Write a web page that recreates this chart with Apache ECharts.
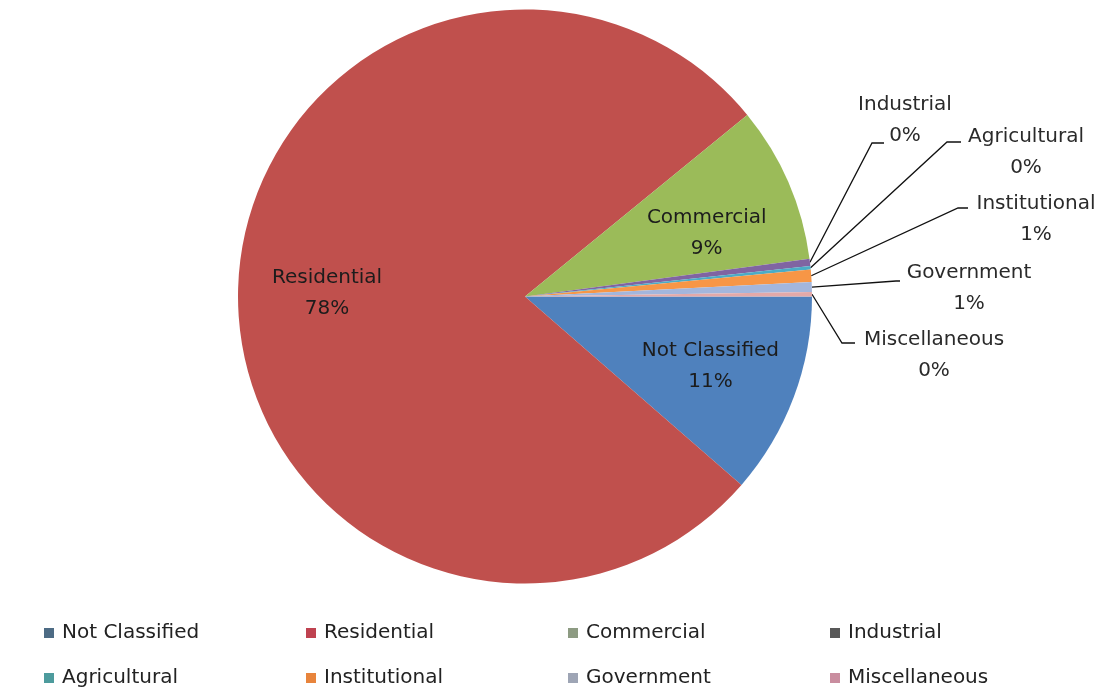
<!DOCTYPE html>
<html>
<head>
<meta charset="utf-8">
<script src="https://cdn.jsdelivr.net/npm/echarts@6/dist/echarts.min.js"></script>
<style>
  html, body { margin: 0; padding: 0; background: #fff; }
  #chart { width: 1114px; height: 698px; }
</style>
</head>
<body>
<div id="chart"></div>
<script>
// categories and values (percent shares)
const categories = ['Not Classified', 'Residential', 'Commercial', 'Industrial',
  'Agricultural', 'Institutional', 'Government', 'Miscellaneous']
const shares = [11.4, 77.7, 8.8, 0.4, 0.2, 0.7, 0.55, 0.25]
const insideLabels = ['Not Classified', 'Residential', 'Commercial']

// colours
const sliceColors = ['#4F81BD', '#C0504D', '#9BBB59', '#8064A2',
  '#4BACC6', '#F79646', '#A3B6DC', '#E3A9A9']
const legendColors = ['#4d6b84', '#bf4250', '#8d9b82', '#585858',
  '#4d9b9d', '#e8843c', '#9ea5b5', '#c98d9f']

// where the outside labels sit (text centre, elbow, end of leader line)
const outsideLayout = {
  'Industrial':    { c: [905, 120], elbow: [872, 143], end: [884, 143] },
  'Agricultural':  { c: [1026, 152], elbow: [947, 142], end: [961, 142] },
  'Institutional': { c: [1036, 219], elbow: [958, 208], end: [968, 208] },
  'Government':    { c: [969, 288], elbow: [896, 281], end: [900, 281] },
  'Miscellaneous': { c: [934, 355], elbow: [842, 343], end: [855, 343] }
}

const font = 'DejaVu Sans'
const center = [525, 296.5]
const pctText = (p) => p.name + '\n' + Math.round(p.percent) + '%'

const chart = echarts.init(document.getElementById('chart'))

const mainData = categories.map((name, i) => ({
  name,
  value: shares[i],
  itemStyle: { color: sliceColors[i] },
  label: { show: !insideLabels.includes(name) },
  labelLine: { show: !insideLabels.includes(name) }
}))

const ghostData = categories.map((name, i) => ({
  name,
  value: shares[i],
  label: { show: insideLabels.includes(name) }
}))

chart.setOption({
  backgroundColor: '#fff',
  animation: false,
  legend: {
    left: 39,
    top: 613,
    width: 1060,
    icon: 'rect',
    itemWidth: 10,
    itemHeight: 10,
    itemGap: 15,
    textStyle: {
      fontFamily: font,
      fontSize: 20,
      color: '#222',
      width: 229,
      lineHeight: 30,
      padding: [0, 0, 0, 3]
    },
    data: categories.map((name, i) => ({ name, itemStyle: { color: legendColors[i] } }))
  },
  series: [
    {
      type: 'pie',
      center,
      radius: 287,
      startAngle: 0,
      clockwise: true,
      avoidLabelOverlap: false,
      silent: true,
      data: mainData,
      label: {
        position: 'outside',
        formatter: pctText,
        fontFamily: font,
        fontSize: 20,
        lineHeight: 31,
        color: '#2a2a2a',
        align: 'center'
      },
      labelLine: {
        show: true,
        length: 20,
        length2: 10,
        lineStyle: { color: '#111', width: 1.3 }
      },
      labelLayout: function (params) {
        const name = categories[params.dataIndex]
        const pos = outsideLayout[name]
        if (!pos) return {}
        const pts = params.labelLinePoints
        const start = pts ? pts[0] : [810, 280]
        return {
          x: pos.c[0],
          y: pos.c[1],
          align: 'center',
          verticalAlign: 'middle',
          labelLinePoints: [start, pos.elbow, pos.end]
        }
      }
    },
    {
      // transparent ring that only carries the in-slice labels
      type: 'pie',
      center,
      radius: [150, 240],
      startAngle: 0,
      clockwise: true,
      avoidLabelOverlap: false,
      silent: true,
      itemStyle: { color: 'transparent' },
      data: ghostData,
      label: {
        position: 'inside',
        formatter: pctText,
        fontFamily: font,
        fontSize: 20,
        lineHeight: 31,
        color: '#1c1c1c'
      },
      labelLine: { show: false },
      labelLayout: function (params) {
        // Excel sets the Commercial label a little lower than the slice middle
        return categories[params.dataIndex] === 'Commercial' ? { dy: 15 } : {}
      }
    }
  ]
})
</script>
</body>
</html>
